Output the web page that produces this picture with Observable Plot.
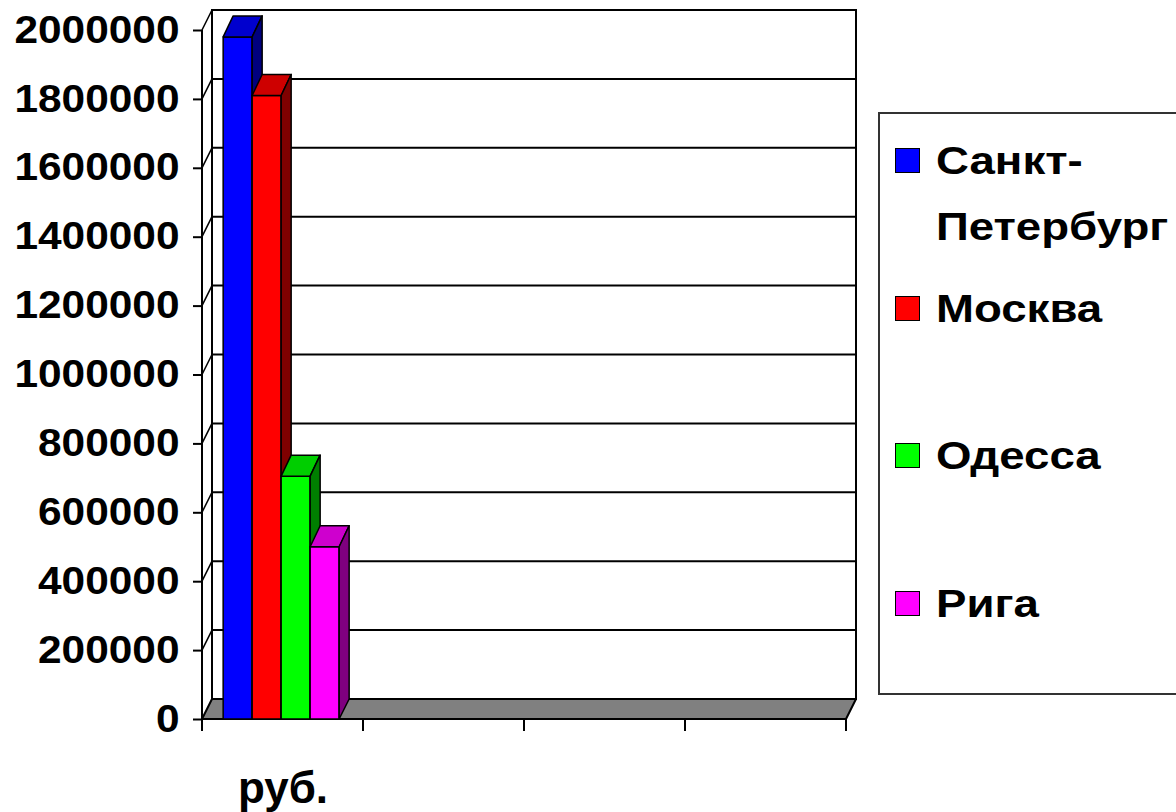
<!DOCTYPE html>
<html>
<head>
<meta charset="utf-8">
<script src="https://cdn.jsdelivr.net/npm/d3@7"></script>
<script src="https://cdn.jsdelivr.net/npm/@observablehq/plot@0.6"></script>
<style>
  html, body { margin: 0; padding: 0; background: #fff; overflow: hidden; }
  #wrap { position: relative; width: 1176px; height: 812px; }
  #legend { position: absolute; left: 878px; top: 112px; width: 340px; height: 583px;
            border: 2px solid #333; box-sizing: border-box; background: #fff; }
  .sw { position: absolute; width: 23px; height: 23px; border: 1.5px solid #000; }
  .lt { position: absolute; font-family: "Liberation Sans", Arial, sans-serif; font-weight: bold;
        font-size: 38px; line-height: 38px; white-space: nowrap; color: #000;
        transform: scaleX(1.2); transform-origin: left center; }
</style>
</head>
<body>
<div id="wrap"></div>
<script>
// ---- data ----
const categories = ["руб.", " ", "  ", "   "];
const series = ["Санкт-Петербург", "Москва", "Одесса", "Рига"];
const values = [1980000, 1810000, 705000, 500000];
const yTicks = [0, 200000, 400000, 600000, 800000, 1000000, 1200000, 1400000, 1600000, 1800000, 2000000];
const seriesColors = ["#0000ff", "#ff0000", "#00ff00", "#ff00ff"];

// ---- 3D look (styling) ----
const DX = 10, DY = -20, BDY = -21;

function bw(scale) {
  return typeof scale.bandwidth === "function" ? scale.bandwidth() : scale.bandwidth;
}

function frameMark(index, scales) {
  const X = scales.x, Y = scales.y;
  const b = bw(X);
  const x0 = X(categories[0]);
  const x1 = X(categories[categories.length - 1]) + b;
  const y0 = Y(0), yTop = Y(d3.max(yTicks));
  const g = d3.create("svg:g");
  g.append("rect")
    .attr("x", x0 + DX).attr("y", yTop + DY)
    .attr("width", x1 - x0).attr("height", y0 - yTop)
    .attr("fill", "#fff").attr("stroke", "#000").attr("stroke-width", 2);
  for (const v of yTicks) {
    if (v === 0) continue;
    const yy = Y(v);
    g.append("line").attr("x1", x0 + DX).attr("x2", x1 + DX)
      .attr("y1", yy + DY).attr("y2", yy + DY)
      .attr("stroke", "#000").attr("stroke-width", 2);
    g.append("line").attr("x1", x0).attr("x2", x0 + DX)
      .attr("y1", yy).attr("y2", yy + DY)
      .attr("stroke", "#000").attr("stroke-width", 1.5);
  }
  g.append("polygon")
    .attr("points", [[x0, y0], [x1, y0], [x1 + DX, y0 + DY], [x0 + DX, y0 + DY]].map(p => p.join(",")).join(" "))
    .attr("fill", "#808080").attr("stroke", "#000").attr("stroke-width", 2).attr("stroke-linejoin", "round");
  g.append("line").attr("x1", x0).attr("x2", x0).attr("y1", yTop).attr("y2", y0)
    .attr("stroke", "#000").attr("stroke-width", 2);
  const bounds = categories.map(c => X(c)).concat([x1]);
  for (const bx of bounds) {
    g.append("line").attr("x1", bx).attr("x2", bx).attr("y1", y0).attr("y2", y0 + 12)
      .attr("stroke", "#000").attr("stroke-width", 2);
  }
  return g.node();
}

function prismMark(index, scales) {
  const X = scales.x, Y = scales.y;
  const b = bw(X);
  const c0 = X(categories[0]);
  const sub = d3.scaleBand().domain(series).range([c0, c0 + b])
    .paddingInner(0).paddingOuter(0.776).align(0.47);
  const w = sub.bandwidth();
  const g = d3.create("svg:g").attr("stroke", "#000").attr("stroke-width", 1.5).attr("stroke-linejoin", "round");
  const pts = a => a.map(p => p.join(",")).join(" ");
  series.forEach((s, i) => {
    const xl = sub(s), xr = xl + w;
    const yv = Y(values[i]), yb = Y(0);
    const base = d3.rgb(seriesColors[i]);
    const top = base.darker(0.6).formatHex();
    const side = base.darker(1.95).formatHex();
    g.append("rect").attr("x", xl).attr("y", yv).attr("width", w).attr("height", yb - yv)
      .attr("fill", base.formatHex());
    g.append("polygon").attr("points", pts([[xl, yv], [xr, yv], [xr + DX, yv + BDY], [xl + DX, yv + BDY]]))
      .attr("fill", top);
    g.append("polygon").attr("points", pts([[xr, yv], [xr + DX, yv + BDY], [xr + DX, yb + DY], [xr, yb]]))
      .attr("fill", side);
  });
  return g.node();
}

const FONT = "Liberation Sans";
const plot = Plot.plot({
  width: 1176,
  height: 812,
  marginLeft: 202,
  marginRight: 330,
  marginTop: 30,
  marginBottom: 93,
  style: { fontFamily: FONT, background: "#fff", overflow: "visible" },
  x: { type: "band", domain: categories, padding: 0 },
  y: { domain: [0, d3.max(yTicks)] },
  marks: [
    frameMark,
    Plot.axisY({
      ticks: yTicks, tickFormat: d3.format("d"), tickSize: 9, tickPadding: 14,
      fontSize: 38, fontFamily: FONT, fontWeight: "bold", strokeWidth: 2, label: null,
      ariaLabel: "y-axis"
    }),
    Plot.axisX({
      tickSize: 0, tickPadding: 52, fontSize: 44, fontFamily: FONT, fontWeight: "bold", label: null,
      ariaLabel: "x-axis"
    }),
    prismMark
  ]
});

const wrap = document.getElementById("wrap");
wrap.appendChild(plot);

// horizontal stretch of the value-axis labels (as in the original wide bold type)
plot.querySelectorAll('g[aria-label="y-axis"] text, g[aria-label^="y-axis"] text').forEach(t => {
  const len = t.getComputedTextLength();
  if (len > 0) {
    t.setAttribute("textLength", (len * 1.116).toFixed(1));
    t.setAttribute("lengthAdjust", "spacingAndGlyphs");
  }
});

// ---- legend ----
const legend = document.createElement("div");
legend.id = "legend";
wrap.appendChild(legend);
const rowStep = 147.5, firstRow = 28, lineStep = 66;
series.forEach((s, i) => {
  const rowTop = firstRow + i * rowStep;
  const sw = document.createElement("div");
  sw.className = "sw";
  sw.style.left = "15px";
  sw.style.top = (rowTop + 6) + "px";
  sw.style.background = seriesColors[i];
  legend.appendChild(sw);
  const lines = s.split(/(?<=-)/);
  lines.forEach((ln, j) => {
    const t = document.createElement("div");
    t.className = "lt";
    t.textContent = ln;
    t.style.left = "56px";
    t.style.top = (rowTop + j * lineStep) + "px";
    legend.appendChild(t);
  });
});
</script>
</body>
</html>
